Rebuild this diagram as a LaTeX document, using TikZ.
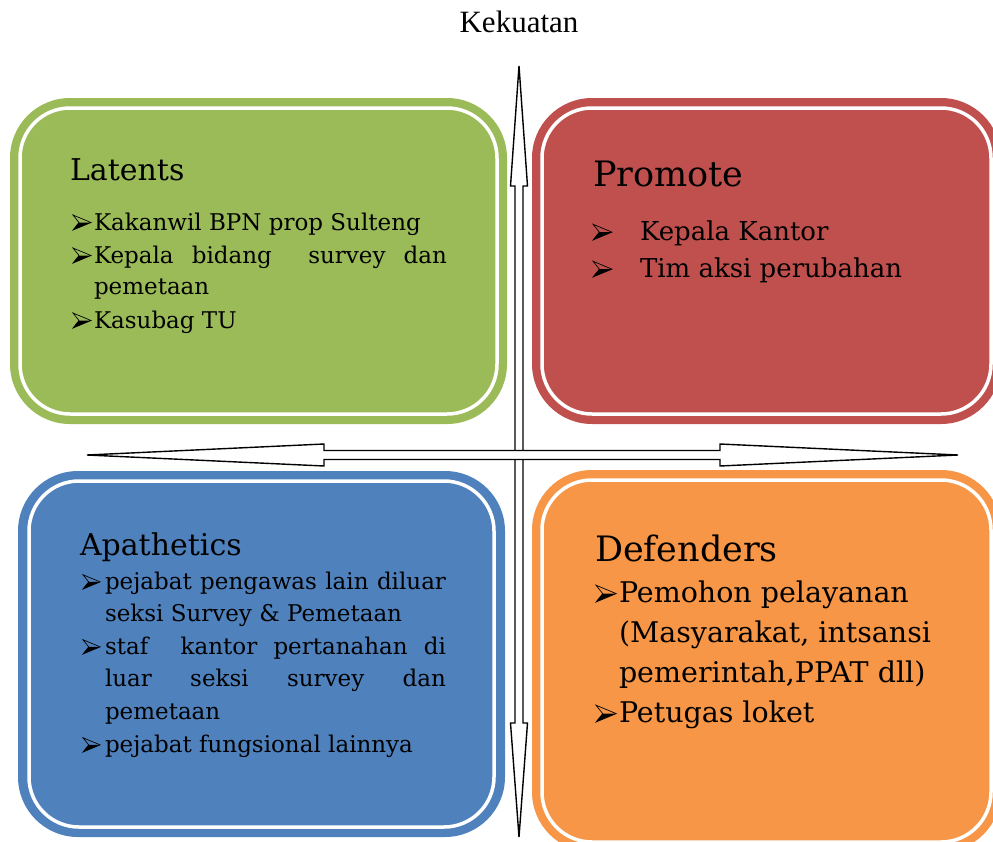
\documentclass[tikz,border=0pt]{standalone}
\usepackage{fontspec}
\setmainfont{DejaVu Serif}
\newfontfamily\titlefont{Liberation Serif}
\definecolor{latgreen}{HTML}{9BBB59}
\definecolor{promred}{HTML}{C0504D}
\definecolor{apablue}{HTML}{4F81BD}
\definecolor{deforange}{HTML}{F79646}
\begin{document}
\begin{tikzpicture}[x=1pt,y=-1pt,
  outerbox/.style={rectangle, rounded corners=60pt, inner sep=0pt, outer sep=0pt},
  innerbox/.style={rectangle, rounded corners=50pt, draw=white, line width=3.5pt, inner sep=0pt},
  txt/.style={anchor=base west, inner sep=0pt, outer sep=0pt, text=black},
  axis/.style={draw=black, fill=white, line width=1.4pt, line join=miter},
  headA/.style={txt, font=\fontsize{30}{34}\selectfont},
  headB/.style={txt, font=\fontsize{35}{40}\selectfont},
  latfont/.style={txt, font=\fontsize{23}{27}\selectfont},
  promfont/.style={txt, font=\fontsize{26}{30}\selectfont},
  apafont/.style={txt, font=\fontsize{23}{27}\selectfont},
  deffont/.style={txt, font=\fontsize{28.5}{32}\selectfont},
  % 3-D arrowhead list bullet, origin at its lower left corner on the baseline
  bulletmark/.pic={
    \fill[black] (0,0) -- (6,-7.5) -- (18,-7.5) -- cycle;
    \draw[black, line width=0.7pt, line join=miter] (0,-15) -- (18,-7.5) -- (0,0) -- (6,-7.5) -- cycle;
  },
]
\useasboundingbox (0,0) rectangle (993,841);
\clip (0,0) rectangle (993,841);

% title
\node[anchor=base, inner sep=0pt, font=\titlefont\fontsize{31}{35}\selectfont] (title) at (519,32) {Kekuatan};

% quadrant panels
\node[outerbox, fill=latgreen, minimum width=497pt, minimum height=326pt] (latents) at (258.5,261) {};
\node[innerbox, minimum width=477pt, minimum height=306pt] (latentsIn) at (latents.center) {};

\node[outerbox, fill=promred, minimum width=469pt, minimum height=326pt] (promote) at (766.5,261) {};
\node[innerbox, minimum width=449pt, minimum height=306pt] (promoteIn) at (promote.center) {};

\node[outerbox, fill=apablue, minimum width=487pt, minimum height=366pt] (apathetics) at (261.5,654) {};
\node[innerbox, minimum width=465pt, minimum height=346pt] (apatheticsIn) at (apathetics.center) {};

\node[outerbox, fill=deforange, minimum width=469pt, minimum height=382pt] (defenders) at (766.5,661) {};
\node[innerbox, minimum width=449pt, minimum height=362pt] (defendersIn) at (defenders.center) {};

% Latents
\node[headA] (latH) at (70,180) {Latents};
\pic (latB1) at (73,230) {bulletmark};
\node[latfont] (latT1) at (94,230) {Kakanwil BPN prop Sulteng};
\pic (latB2) at (73,263) {bulletmark};
\node[latfont] (latT2) at (94,263) {\makebox[353pt][s]{Kepala bidang\ \ survey dan}};
\node[latfont] (latT3) at (94,294) {pemetaan};
\pic (latB4) at (73,328) {bulletmark};
\node[latfont] (latT4) at (94,328) {Kasubag TU};

% Promote
\node[headB] (promH) at (593,186) {Promote};
\pic[scale=1.05] (promB1) at (593,240) {bulletmark};
\node[promfont] (promT1) at (640,240) {Kepala Kantor};
\pic[scale=1.05] (promB2) at (593,277) {bulletmark};
\node[promfont] (promT2) at (640,277) {Tim aksi perubahan};

% Apathetics
\node[headA] (apaH) at (80,555) {Apathetics};
\pic[scale=0.95] (apaB1) at (83,589) {bulletmark};
\node[apafont] (apaT1) at (105,589) {\makebox[341pt][s]{pejabat pengawas lain diluar}};
\node[apafont] (apaT2) at (105,621) {seksi Survey \& Pemetaan};
\pic[scale=0.95] (apaB3) at (83,654) {bulletmark};
\node[apafont] (apaT3) at (105,654) {\makebox[341pt][s]{staf\ \ kantor pertanahan di}};
\node[apafont] (apaT4) at (105,686) {\makebox[341pt][s]{luar seksi survey dan}};
\node[apafont] (apaT5) at (105,719) {pemetaan};
\pic[scale=0.95] (apaB6) at (83,752) {bulletmark};
\node[apafont] (apaT6) at (105,752) {pejabat fungsional lainnya};

% Defenders
\node[headB] (defH) at (595,561) {Defenders};
\pic[scale=1.12] (defB1) at (596,602) {bulletmark};
\node[deffont] (defT1) at (619,602) {Pemohon pelayanan};
\node[deffont] (defT2) at (619,642) {(Masyarakat, intsansi};
\node[deffont] (defT3) at (619,682) {pemerintah,PPAT dll)};
\pic[scale=1.12] (defB4) at (596,722) {bulletmark};
\node[deffont] (defT4) at (619,722) {Petugas loket};

% vertical double arrow
\coordinate (vtop) at (519,66);
\coordinate (vbot) at (519,837);
\draw[axis] (vtop) -- (527.5,186) -- (523,186) -- (523,723) -- (527.5,723) -- (vbot)
  -- (510.5,723) -- (515,723) -- (515,186) -- (510.5,186) -- cycle;

% horizontal double arrow
\coordinate (hleft) at (87,455);
\coordinate (hright) at (958,455);
\draw[axis] (hleft) -- (324,444) -- (324,450.5) -- (720,450.5) -- (720,444) -- (hright)
  -- (720,466) -- (720,459.5) -- (324,459.5) -- (324,466) -- cycle;
\end{tikzpicture}
\end{document}
